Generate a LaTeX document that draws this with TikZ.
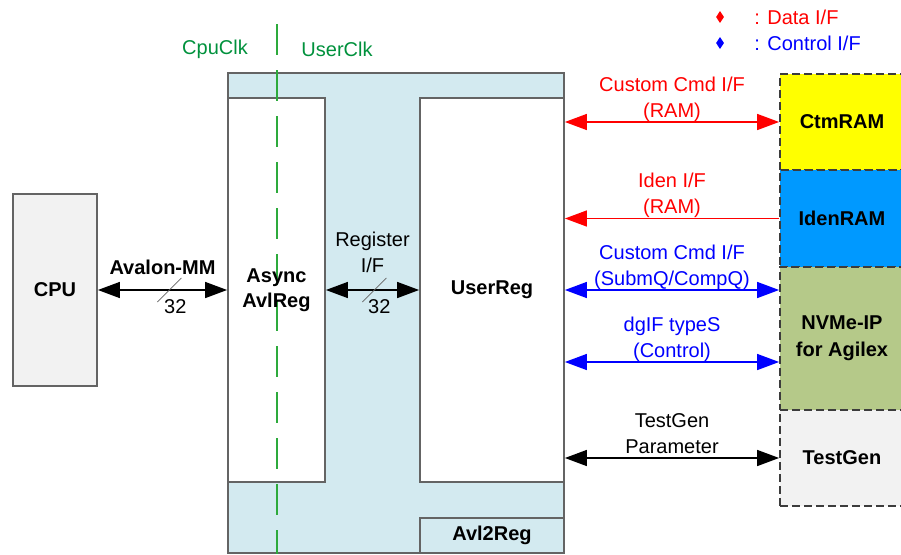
\documentclass[tikz,border=0pt]{standalone}
\usepackage{fontspec}
\setmainfont{Liberation Sans}
\usetikzlibrary{positioning, arrows.meta, shapes.geometric, calc}

\definecolor{boxgray}{RGB}{100,100,100}
\definecolor{extgray}{RGB}{60,60,60}
\definecolor{cpugray}{RGB}{242,242,242}
\definecolor{avlblue}{RGB}{211,234,240}
\definecolor{ctmyellow}{RGB}{255,255,0}
\definecolor{idenblue}{RGB}{0,153,255}
\definecolor{nvmegreen}{RGB}{181,201,137}
\definecolor{clkline}{RGB}{45,170,60}
\definecolor{clktext}{RGB}{0,145,60}

\begin{document}
\begin{tikzpicture}[
                x=1pt, y=-1pt,
                >={Triangle[length=22pt, width=16pt]},
                font=\fontsize{20}{26}\selectfont,
                block/.style={draw=boxgray, line width=1.8pt, rectangle, inner sep=0pt, align=center, font=\fontsize{20}{25}\selectfont\bfseries},
                ext/.style={draw=extgray, line width=1.8pt, dash pattern=on 8pt off 4pt, rectangle, inner sep=0pt, align=center, font=\fontsize{20}{27}\selectfont\bfseries},
                link/.style={<->, line width=1.5pt},
                lbl/.style={above=4pt, inner sep=0pt, text depth=0pt, align=center},
                legendmark/.style={diamond, inner sep=0pt, minimum width=8pt, minimum height=12pt},
            ]
                \useasboundingbox (0,0) rectangle (901,554);

                % Avl2Reg with its two inner blocks
                \node[block, fill=avlblue, minimum width=336pt, minimum height=480pt] (avl2reg) at (396,313) {};
                \node[block, fill=white, minimum width=97pt, minimum height=384pt] (async) at (276.5,290) {};
                \node[block, fill=white, minimum width=144pt, minimum height=384pt] (userreg) at (492,290) {UserReg};
                \node[block, fill=avlblue, minimum width=144pt, minimum height=35pt] (avlname) at (492,535.5) {Avl2Reg};

                % Clock domain border
                \coordinate (clktop) at (277,24);
                \coordinate (clkbot) at (277,554);
                \draw[clkline, line width=2pt, dash pattern=on 31pt off 15pt] (clktop) -- (clkbot);
                \node[clktext] (cpuclk) at (215,49) {CpuClk};
                \node[clktext] (userclk) at (337,49) {UserClk};
                \node[align=center, font=\fontsize{20}{25}\selectfont\bfseries] (asynctext) at (async) {Async\\AvlReg};

                % CPU
                \node[block, fill=cpugray, minimum width=84pt, minimum height=192pt] (cpu) at (55,290) {CPU};

                % External blocks
                \node[ext, fill=ctmyellow, minimum width=124pt, minimum height=96pt] (ctmram) at (842,122) {CtmRAM};
                \node[ext, fill=idenblue, minimum width=124pt, minimum height=97pt] (idenram) at (842,218.5) {IdenRAM};
                \node[ext, fill=nvmegreen, minimum width=124pt, minimum height=143pt] (nvme) at (842,338.5) {NVMe-IP\\for Agilex};
                \node[ext, fill=cpugray, minimum width=124pt, minimum height=96pt] (testgen) at (842,458) {TestGen};

                % Avalon-MM and register interfaces
                \draw[link] (cpu.east) -- node[lbl, above=15pt, font=\fontsize{20}{25}\selectfont\bfseries] {Avalon-MM} coordinate[pos=0.553] (avslash) (async.west);
                \draw[boxgray, line width=0.8pt] ($(avslash)+(-12,12)$) -- ($(avslash)+(12,-12)$);
                \node (avwidth) at ($(avslash)+(6,17)$) {32};

                \draw[link] (async.east) -- node[lbl, above=17pt] {Register\\I/F} coordinate[pos=0.52] (regslash) (userreg.west);
                \draw[boxgray, line width=0.8pt] ($(regslash)+(-12,12)$) -- ($(regslash)+(12,-12)$);
                \node (regwidth) at ($(regslash)+(5,17)$) {32};

                % Interfaces to the external blocks
                \coordinate (dgif) at (0,362);
                \draw[link, red] (userreg.east |- ctmram.west) -- node[lbl] {Custom Cmd I/F\\(RAM)} (ctmram.west);
                \draw[->, line width=1.5pt, red] (idenram.west) -- node[lbl] {Iden I/F\\(RAM)} (userreg.east |- idenram.west);
                \draw[link, blue] (userreg.east) -- node[lbl] {Custom Cmd I/F\\(SubmQ/CompQ)} (nvme.west |- userreg.east);
                \draw[link, blue] (userreg.east |- dgif) -- node[lbl] {dgIF typeS\\(Control)} (nvme.west |- dgif);
                \draw[link] (userreg.east |- testgen.west) -- node[lbl] {TestGen\\Parameter} (testgen.west);

                % Legend
                \node[legendmark, fill=red] (datamark) at (720,17) {};
                \node[right=30pt of datamark, inner sep=0pt, red] (datatext) {: Data I/F};
                \node[legendmark, fill=blue] (ctrlmark) at (720,43) {};
                \node[right=30pt of ctrlmark, inner sep=0pt, blue] (ctrltext) {: Control I/F};
            \end{tikzpicture}
\end{document}
